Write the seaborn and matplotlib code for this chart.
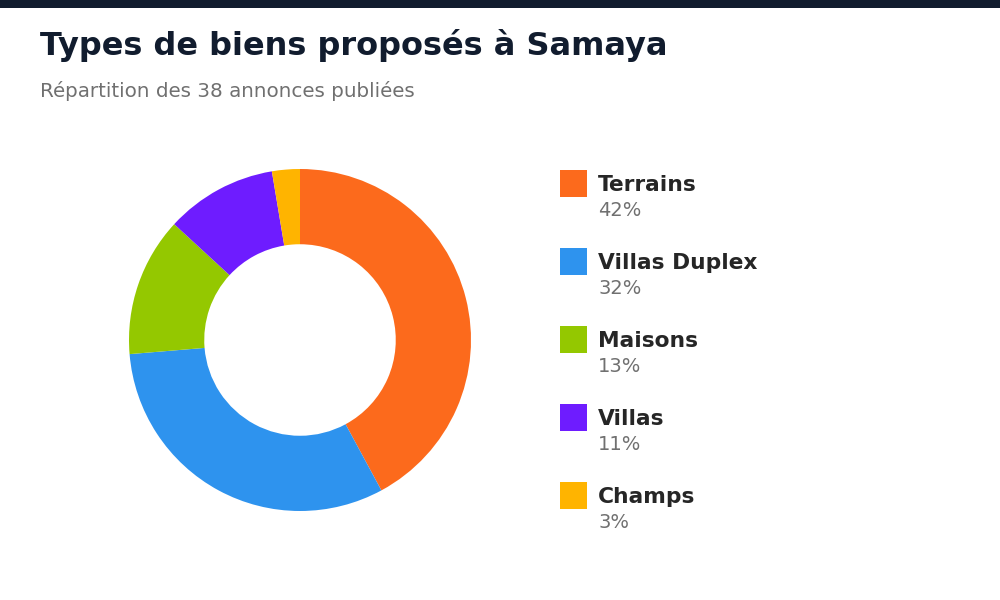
import matplotlib
matplotlib.use('Agg')
import matplotlib.pyplot as plt
from matplotlib.patches import Rectangle
import seaborn as sns

# data
categories = ['Terrains', 'Villas Duplex', 'Maisons', 'Villas', 'Champs']
counts = [16, 12, 5, 4, 1]
percent_labels = ['42%', '32%', '13%', '11%', '3%']
colors = ['#FC6A1C', '#2E93EE', '#94C800', '#6E1CFF', '#FFB400']

sns.set_theme(style='white')
plt.rcParams['font.family'] = ['DejaVu Sans']

fig = plt.figure(figsize=(10, 6), dpi=100)
fig.patch.set_facecolor('white')

# dark strip at the top
fig.patches.append(Rectangle((0, 1 - 8 / 600), 1, 8 / 600, transform=fig.transFigure,
                             facecolor='#111c2e', edgecolor='none', zorder=0))

fig.text(0.04, 1 - 46 / 600, 'Types de biens proposés à Samaya', fontsize=23,
         fontweight='bold', color='#111c2e', va='center')
fig.text(0.04, 1 - 91 / 600, 'Répartition des 38 annonces publiées', fontsize=14.3,
         color='#707070', va='center')

# donut
ax = fig.add_axes([0.3 - 0.171, (1 - 340 / 600) - 171 / 600, 0.342, 342 / 600])
ax.pie(counts, colors=colors, startangle=90, counterclock=False, radius=1,
       wedgeprops=dict(width=0.44, edgecolor='none'))
ax.set_xlim(-1, 1)
ax.set_ylim(-1, 1)
ax.set_aspect('equal')
ax.axis('off')

# legend
for i, (cat, pct, col) in enumerate(zip(categories, percent_labels, colors)):
    top = 170 + i * 78
    fig.patches.append(Rectangle((560 / 1000, 1 - (top + 27) / 600), 27 / 1000, 27 / 600,
                                 transform=fig.transFigure, facecolor=col, edgecolor='none'))
    fig.text(598 / 1000, 1 - (top + 15) / 600, cat, fontsize=15.7, fontweight='bold',
             color='#262626', va='center')
    fig.text(598 / 1000, 1 - (top + 41) / 600, pct, fontsize=14, color='#707070',
             va='center')

fig.savefig('out.png', dpi=100, facecolor='white')
